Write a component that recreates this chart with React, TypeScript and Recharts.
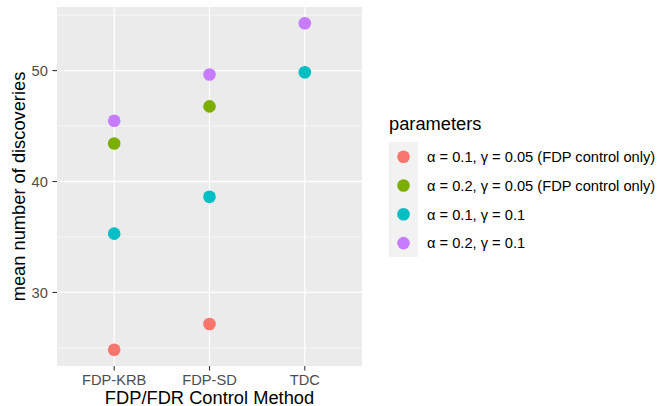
import { CartesianGrid, Scatter, ScatterChart, XAxis, YAxis } from "recharts";

const methods = ["FDP-KRB", "FDP-SD", "TDC"];

const seriesNames = [
  "α = 0.1, γ = 0.05 (FDP control only)",
  "α = 0.2, γ = 0.05 (FDP control only)",
  "α = 0.1, γ = 0.1",
  "α = 0.2, γ = 0.1",
];
const seriesColors = ["#F8766D", "#7CAE00", "#00BFC4", "#C77CFF"];

// mean discoveries per method (null = not run for that method)
const alpha01gamma005 = [24.84, 27.15, null];
const alpha02gamma005 = [43.42, 46.77, null];
const alpha01gamma01 = [35.3, 38.62, 49.85];
const alpha02gamma01 = [45.48, 49.64, 54.26];
const seriesValues = [alpha01gamma005, alpha02gamma005, alpha01gamma01, alpha02gamma01];

const yTicks = [30, 40, 50];
const yMinorTicks = [25, 35, 45, 55];
const yDomain: [number, number] = [23.37, 55.73];

const font = '"Liberation Sans", Arial, sans-serif';

const toPoints = (values: (number | null)[]) =>
  values
    .map((v, i) => ({ x: i + 1, y: v }))
    .filter((p) => p.y !== null);

const Legend = () => (
  <svg width={277} height={170} style={{ position: "absolute", left: 380, top: 100 }}>
    <text x={9} y={30} fontFamily={font} fontSize={18.3} fill="#000">
      parameters
    </text>
    <rect x={9} y={42} width={29} height={115} fill="#F2F2F2" />
    {seriesNames.map((name, i) => (
      <g key={name}>
        <circle cx={23.5} cy={56.7 + i * 28.8} r={6.3} fill={seriesColors[i]} />
        <text
          x={47}
          y={56.7 + i * 28.8}
          dy="0.36em"
          fontFamily={font}
          fontSize={14.67}
          fill="#000"
        >
          {name}
        </text>
      </g>
    ))}
  </svg>
);

const App = () => {
  return (
    <div style={{ position: "absolute", left: 0, top: 0, width: 657, height: 406, background: "#fff" }}>
      <ScatterChart width={657} height={406} margin={{ top: 7, right: 295, bottom: 0, left: 0 }}>
        <CartesianGrid
          fill="#EBEBEB"
          fillOpacity={1}
          stroke="#FFFFFF"
          strokeWidth={0.6}
          vertical={false}
          horizontalValues={yMinorTicks}
        />
        <CartesianGrid
          stroke="#FFFFFF"
          strokeWidth={1.3}
          horizontalValues={yTicks}
          verticalValues={[1, 2, 3]}
        />
        <XAxis
          type="number"
          dataKey="x"
          domain={[0.4, 3.6]}
          ticks={[1, 2, 3]}
          interval={0}
          allowDataOverflow
          tickFormatter={(v) => methods[v - 1]}
          height={40}
          axisLine={false}
          tickSize={4.6}
          tickMargin={4}
          tickLine={{ stroke: "#333333", strokeWidth: 1.1 }}
          tick={{ fontSize: 14.67, fill: "#4D4D4D", fontFamily: font }}
          label={{
            content: (p: any) => {
              const vb = p.viewBox;
              return (
                <text
                  x={vb.x + vb.width / 2}
                  y={vb.y + vb.height - 2.5}
                  textAnchor="middle"
                  fontFamily={font}
                  fontSize={18.3}
                  fill="#000"
                >
                  FDP/FDR Control Method
                </text>
              );
            },
          }}
        />
        <YAxis
          type="number"
          dataKey="y"
          domain={yDomain}
          ticks={yTicks}
          allowDataOverflow
          width={57}
          axisLine={false}
          tickSize={4.6}
          tickMargin={4.5}
          tickLine={{ stroke: "#333333", strokeWidth: 1.1 }}
          tick={{ fontSize: 14.67, fill: "#4D4D4D", fontFamily: font }}
          label={{
            content: (p: any) => {
              const vb = p.viewBox;
              const cx = vb.x + 25;
              const cy = vb.y + vb.height / 2;
              return (
                <text
                  x={cx}
                  y={cy}
                  transform={`rotate(-90 ${cx} ${cy})`}
                  textAnchor="middle"
                  fontFamily={font}
                  fontSize={18.3}
                  fill="#000"
                >
                  mean number of discoveries
                </text>
              );
            },
          }}
        />
        {seriesValues.map((values, i) => (
          <Scatter
            key={seriesNames[i]}
            name={seriesNames[i]}
            data={toPoints(values)}
            fill={seriesColors[i]}
            isAnimationActive={false}
            shape={(props: any) => <circle cx={props.cx} cy={props.cy} r={6.3} fill={seriesColors[i]} />}
          />
        ))}
      </ScatterChart>
      <Legend />
    </div>
  );
};

export default App;
